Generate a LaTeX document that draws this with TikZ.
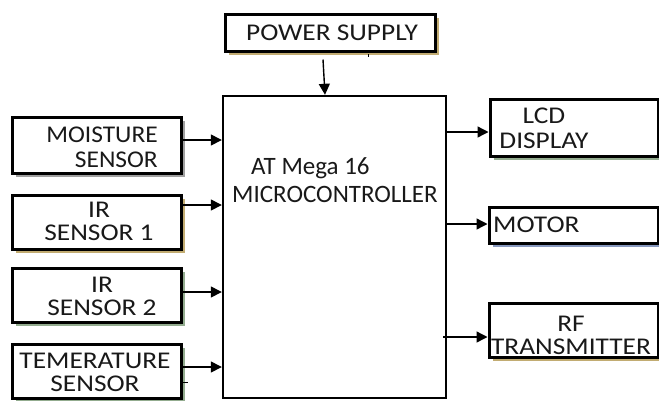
\documentclass[tikz,border=0pt]{standalone}
\usepackage{fontspec}
\setmainfont{Carlito}[FakeStretch=1.14]
\newfontfamily\narrowfont{Carlito}[FakeStretch=1.06]
\newfontfamily\plainfont{Carlito}
\usetikzlibrary{arrows.meta,shadows}
\definecolor{shtan}{HTML}{C2AC72}
\definecolor{shgray}{HTML}{A0A0A0}
\definecolor{shgreen}{HTML}{93AC8F}
\definecolor{shblue}{HTML}{8798BE}
\begin{document}
\begin{tikzpicture}[x=1pt,y=-1pt,
  box/.style={draw=black,line width=3pt,fill=white,rectangle,inner sep=0pt},
  sh/.style={drop shadow={shadow xshift=3.5pt,shadow yshift=-3.5pt,fill=#1,opacity=1}},
  lbl/.style={font=\fontsize{24}{25}\selectfont,inner sep=0pt,align=center,text=black!90},
  arr/.style={line width=1.4pt,-{Triangle[length=11pt,width=11pt]}}]
\useasboundingbox (0,0) rectangle (659,400);
% boxes
\node[box,sh=shtan,minimum width=210pt,minimum height=37pt] (pw) at (330,32.5) {};
\node[box,line width=2.4pt,minimum width=223pt,minimum height=302pt] (main) at (334.5,247) {};
\node[box,sh=shgray,minimum width=169pt,minimum height=56pt] (mo) at (96.5,145) {};
\node[box,sh=shtan,minimum width=169pt,minimum height=54pt] (ir1) at (96.5,222) {};
\node[box,sh=shgreen,minimum width=169pt,minimum height=54pt] (ir2) at (96.5,295) {};
\node[box,sh=shgreen,minimum width=169pt,minimum height=54pt] (te) at (96.5,371) {};
\node[box,sh=shgreen,minimum width=168pt,minimum height=57pt] (lcd) at (574,127.5) {};
\node[box,sh=shblue,minimum width=169pt,minimum height=36pt] (mot) at (573.5,225) {};
\node[box,sh=shtan,minimum width=169pt,minimum height=54pt] (rf) at (573.5,330) {};
% texts
\node[lbl] (pwt) at (332,33) {POWER SUPPLY};
\node[lbl,font=\narrowfont\fontsize{24}{25}\selectfont,align=right,anchor=east] (mot1) at (158,147) {MOISTURE\\SENSOR};
\node[lbl] (ir1t) at (99,221) {IR\\[-2pt]SENSOR 1};
\node[lbl] (ir2t) at (102,296) {IR\\[-2pt]SENSOR 2};
\node[lbl] (tet) at (95,372) {TEMERATURE\\[-2pt]SENSOR};
\node[lbl,font=\plainfont\fontsize{25}{28}\selectfont,align=left,anchor=west] (maint) at (232,180) {\hspace*{19pt}AT Mega 16\\MICROCONTROLLER};
\node[lbl] (lcdt) at (544,128) {LCD\\DISPLAY};
\node[lbl,anchor=west] (mott) at (493,225) {MOTOR};
\node[lbl] (rft) at (571,335) {RF\\[-2pt]TRANSMITTER};
% connectors
\draw[arr] ([xshift=-7pt,yshift=-7pt]pw.south) -- ([xshift=-9.5pt]main.north);
\draw[line width=1pt] ([xshift=38pt,yshift=-1.5pt]pw.south) -- ([xshift=38pt,yshift=-4.5pt]pw.south);
\draw[arr] ([yshift=5pt]mo.east) -- ([yshift=5pt]mo.east -| main.west);
\draw[arr] ([yshift=17pt]ir1.east) -- ([yshift=17pt]ir1.east -| main.west);
\draw[arr] ([yshift=3pt]ir2.east) -- ([yshift=3pt]ir2.east -| main.west);
\draw[arr] ([yshift=4pt]te.east) -- ([yshift=4pt]te.east -| main.west);
\draw[line width=1pt] ([yshift=-11pt]te.east) -- ([xshift=5pt,yshift=-11pt]te.east);
\draw[arr] ([yshift=-4.5pt]lcd.west -| main.east) -- ([yshift=-4.5pt]lcd.west);
\draw[arr] ([yshift=1pt]mot.west -| main.east) -- ([yshift=1pt]mot.west);
\draw[arr] ([xshift=-4pt,yshift=-7pt]rf.west -| main.east) -- ([yshift=-7pt]rf.west);
\end{tikzpicture}
\end{document}
